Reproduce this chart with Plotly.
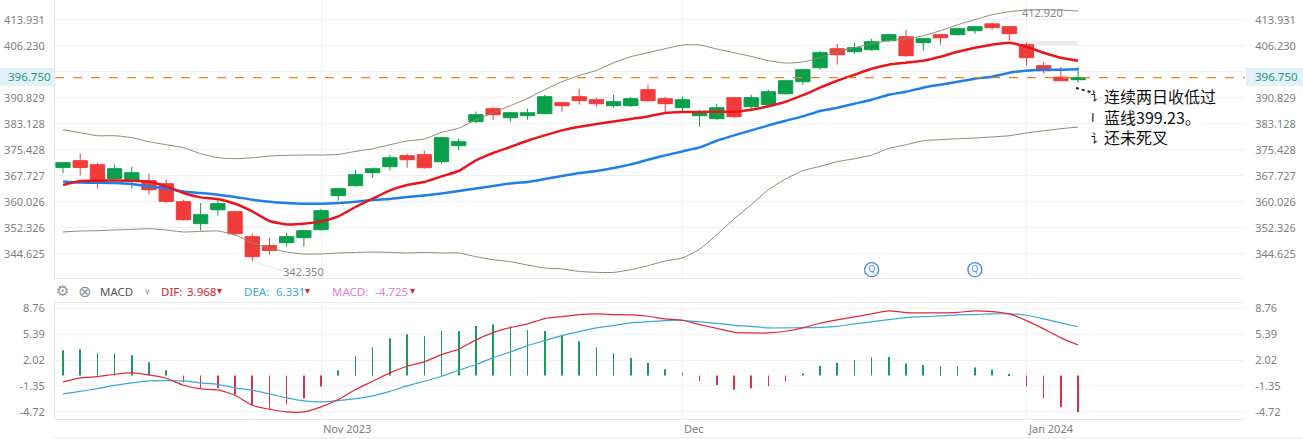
import plotly.graph_objects as go

WIDTH = 1303
HEIGHT = 439

dates = [
    "2023-10-11", "2023-10-12", "2023-10-13", "2023-10-16", "2023-10-17", "2023-10-18", "2023-10-19", "2023-10-20",
    "2023-10-23", "2023-10-24", "2023-10-25", "2023-10-26", "2023-10-27", "2023-10-30", "2023-10-31",
    "2023-11-01", "2023-11-02", "2023-11-03", "2023-11-06", "2023-11-07", "2023-11-08", "2023-11-09", "2023-11-10",
    "2023-11-13", "2023-11-14", "2023-11-15", "2023-11-16", "2023-11-17", "2023-11-20", "2023-11-21", "2023-11-22",
    "2023-11-24", "2023-11-27", "2023-11-28", "2023-11-29", "2023-11-30",
    "2023-12-01", "2023-12-04", "2023-12-05", "2023-12-06", "2023-12-07", "2023-12-08", "2023-12-11", "2023-12-12",
    "2023-12-13", "2023-12-14", "2023-12-15", "2023-12-18", "2023-12-19", "2023-12-20", "2023-12-21", "2023-12-22",
    "2023-12-26", "2023-12-27", "2023-12-28", "2023-12-29",
    "2024-01-02", "2024-01-03", "2024-01-04", "2024-01-05",
]

opens = [
    370.18, 372.17, 370.98, 366.84, 366.54, 366.24, 365.35, 360.02, 353.51, 357.65, 357.06, 349.66,
    346.99, 347.88, 349.36, 351.73, 361.80, 364.76, 368.61, 370.39, 373.65, 373.94, 371.87, 376.61,
    383.72, 387.57, 384.90, 385.50, 386.09, 389.35, 391.12, 390.24, 388.46, 388.46, 393.20, 390.53,
    387.87, 385.50, 384.61, 390.83, 388.16, 388.76, 392.01, 395.57, 399.71, 405.34, 404.45, 405.05,
    407.71, 408.90, 407.12, 409.49, 409.49, 410.67, 412.70, 411.86, 406.52, 400.31, 396.90, 396.16,
]
highs = [
    371.87, 374.24, 371.49, 370.98, 370.39, 368.32, 366.54, 360.61, 359.64, 360.61, 357.36, 350.54,
    349.36, 350.84, 351.73, 357.95, 364.17, 369.50, 370.09, 373.94, 374.24, 375.13, 379.28, 378.68,
    386.68, 388.16, 386.68, 387.57, 391.72, 389.64, 393.49, 390.83, 391.72, 391.12, 394.68, 391.12,
    391.12, 387.27, 389.05, 391.12, 391.72, 393.20, 396.16, 399.42, 404.75, 406.82, 407.12, 408.30,
    409.78, 410.97, 408.60, 409.78, 411.56, 412.15, 412.92, 412.15, 407.12, 401.49, 400.01, 400.01,
]
lows = [
    368.52, 367.81, 363.96, 366.24, 363.96, 362.18, 359.52, 354.48, 351.43, 355.87, 349.95, 342.35,
    344.32, 346.69, 346.69, 351.43, 360.32, 364.55, 367.13, 369.20, 370.09, 369.80, 371.28, 375.13,
    383.42, 384.31, 383.72, 384.31, 385.94, 386.68, 388.76, 388.16, 387.87, 388.16, 389.64, 386.09,
    386.68, 382.24, 384.31, 384.90, 387.27, 388.46, 391.72, 394.68, 399.12, 400.60, 403.86, 404.75,
    407.41, 402.97, 404.75, 406.53, 409.19, 409.78, 410.97, 407.71, 400.31, 397.94, 395.71, 395.27,
]
closes = [
    371.57, 370.18, 365.56, 369.80, 368.61, 363.58, 360.11, 354.69, 356.17, 359.43, 350.54, 343.73,
    345.60, 349.66, 351.43, 357.36, 363.87, 368.02, 369.80, 373.05, 372.46, 370.09, 378.98, 377.79,
    385.79, 385.79, 386.38, 386.38, 391.12, 388.46, 389.94, 389.05, 389.64, 390.53, 389.94, 389.05,
    390.24, 386.68, 387.87, 385.20, 390.83, 392.60, 395.86, 399.12, 404.16, 403.56, 405.64, 407.41,
    409.49, 403.27, 408.30, 408.60, 411.27, 411.86, 411.56, 409.78, 402.68, 398.82, 395.86, 396.75,
]

ma_fast = [
    364.97, 366.15, 366.24, 366.33, 366.24, 365.95, 364.55, 362.60, 361.30, 360.82, 359.43, 357.15,
    354.31, 353.30, 353.51, 354.19, 355.67, 358.45, 360.91, 363.37, 364.97, 365.86, 367.52, 369.12,
    372.26, 374.45, 376.23, 378.09, 379.66, 381.14, 382.24, 383.04, 383.81, 384.55, 385.29, 386.30,
    386.59, 386.59, 386.68, 386.68, 387.27, 388.31, 389.64, 391.57, 393.79, 395.86, 397.64, 399.42,
    400.60, 401.19, 401.79, 402.97, 404.45, 405.64, 406.53, 407.12, 405.93, 404.16, 402.68, 401.79,
]
ma_slow = [
    366.04, 365.74, 365.65, 365.56, 365.26, 364.55, 363.96, 363.07, 362.60, 362.10, 361.41, 360.61,
    360.02, 359.64, 359.43, 359.43, 359.64, 360.02, 360.53, 360.82, 361.41, 361.89, 362.48, 363.19,
    363.96, 364.67, 365.44, 365.86, 366.75, 367.63, 368.52, 369.12, 370.00, 371.07, 372.46, 373.74,
    374.92, 376.11, 378.09, 379.66, 381.14, 382.62, 384.01, 385.29, 386.89, 387.87, 389.05, 390.24,
    391.72, 392.60, 393.79, 394.68, 395.57, 396.46, 397.05, 398.23, 398.82, 399.12, 399.12, 399.23,
]
band_upper = [
    381.35, 380.46, 379.57, 379.57, 378.98, 377.79, 376.90, 376.02, 374.24, 373.05, 372.76, 373.05,
    373.56, 373.74, 373.85, 373.85, 374.03, 374.92, 375.72, 376.90, 378.00, 378.59, 380.55, 381.79,
    384.31, 386.38, 388.46, 390.62, 393.20, 395.57, 397.43, 398.91, 401.19, 402.97, 404.16, 405.34,
    406.44, 406.44, 405.25, 404.16, 403.06, 401.79, 401.10, 401.40, 402.68, 404.45, 405.64, 406.82,
    407.71, 408.30, 409.19, 410.67, 412.45, 413.93, 415.41, 416.30, 416.80, 416.89, 416.80, 416.50,
]
band_lower = [
    351.05, 351.34, 351.43, 351.64, 351.82, 352.03, 351.64, 351.05, 351.22, 351.34, 350.16, 347.88,
    346.31, 345.12, 344.53, 344.53, 344.83, 345.00, 345.12, 345.00, 344.83, 345.00, 344.83, 344.83,
    343.73, 342.84, 342.25, 341.27, 340.38, 340.09, 339.38, 339.08, 339.08, 339.88, 341.07, 342.46,
    343.35, 345.95, 350.25, 354.90, 359.13, 363.58, 366.75, 369.21, 370.48, 371.87, 372.76, 373.85,
    375.81, 376.90, 378.09, 378.39, 378.68, 378.89, 379.19, 379.57, 380.37, 381.05, 381.64, 382.15,
]

dif = [
    -0.82, -0.30, -0.13, 0.17, 0.35, 0.09, -0.35, -1.26, -1.73, -1.85, -2.55, -3.85,
    -4.37, -4.71, -4.71, -4.05, -3.11, -1.81, -0.74, 0.35, 1.21, 1.78, 2.72, 3.41,
    4.63, 5.57, 6.22, 6.70, 7.39, 7.65, 7.91, 8.00, 7.91, 7.87, 7.69, 7.35,
    7.17, 6.61, 6.13, 5.61, 5.53, 5.53, 5.75, 6.18, 6.78, 7.22, 7.61, 8.01,
    8.39, 8.17, 8.13, 8.13, 8.20, 8.39, 8.30, 8.00, 7.13, 6.05, 4.89, 3.968,
]
dea = [
    -2.37, -2.04, -1.69, -1.26, -0.95, -0.69, -0.65, -0.69, -0.95, -1.13, -1.59, -1.91,
    -2.37, -2.89, -3.28, -3.41, -3.24, -2.98, -2.63, -2.04, -1.34, -0.74, -0.09, 0.69,
    1.43, 2.33, 3.07, 3.89, 4.54, 5.18, 5.70, 6.18, 6.48, 6.83, 7.00, 7.13,
    7.17, 6.96, 6.78, 6.52, 6.39, 6.18, 6.18, 6.22, 6.26, 6.39, 6.70, 6.97,
    7.26, 7.52, 7.65, 7.74, 7.87, 7.91, 8.00, 8.00, 7.82, 7.35, 6.83, 6.331,
]
macd_hist = [
    3.28, 3.41, 2.94, 2.89, 2.63, 1.73, 0.69, -0.91, -1.60, -1.60, -2.46, -3.85,
    -4.32, -3.76, -2.98, -1.43, 0.69, 2.55, 3.67, 4.84, 5.36, 5.10, 5.79, 5.79,
    6.44, 6.65, 6.39, 5.92, 5.79, 5.14, 4.45, 3.67, 2.94, 2.29, 1.65, 0.82,
    0.35, -0.69, -1.21, -1.85, -1.65, -1.39, -0.73, 0.26, 1.25, 1.65, 2.03, 2.33,
    2.42, 1.56, 1.38, 1.17, 1.17, 1.04, 0.78, 0.22, -1.43, -2.94, -4.10, -4.725,
]

price_ticks = [413.931, 406.230, 398.530, 390.829, 383.128, 375.428, 367.727, 360.026, 352.326, 344.625]
price_labels = ["413.931", "406.230", "", "390.829", "383.128", "375.428", "367.727", "360.026", "352.326", "344.625"]
macd_ticks = [8.76, 5.39, 2.02, -1.35, -4.72]
macd_labels = ["8.76", "5.39", "2.02", "-1.35", "-4.72"]
month_ticks = ["2023-11-01", "2023-12-01", "2024-01-02"]
month_labels = ["Nov 2023", "Dec", "Jan 2024"]
news_dates = ["2023-12-18", "2023-12-27"]
news_level = [339.88, 339.88]
last_price = 396.75
note_lines = ["连续两日收低过", "蓝线399.23。", "还未死叉"]
note_cut = ["讠", "I", "讠"]

GREEN = "#0a9f4a"
RED = "#f23b3b"
GRID = "#eef0f3"
BORDER = "#e6e8ec"
LABEL = "#7b7f86"
FONT = "Noto Sans"
CJK = "Noto Sans CJK SC"


def px(x):
    return x / WIDTH


def py(y):
    return 1 - y / HEIGHT


def label(text, x, y, color=LABEL, size=11, anchor="left", family=FONT, **kwargs):
    return dict(text=text, x=px(x), y=py(y), xref="paper", yref="paper", xanchor=anchor, yanchor="middle",
                showarrow=False, font=dict(color=color, size=size, family=family), borderpad=0, **kwargs)


def line_trace(values, color, width, axis="y", shape="spline"):
    return go.Scatter(x=dates, y=values, mode="lines", hoverinfo="skip", xaxis="x" if axis == "y" else "x2",
                      yaxis=axis, line=dict(color=color, width=width, shape=shape, smoothing=0.5))


data = [
    line_trace(band_upper, "#8c8b6c", 1),
    line_trace(band_lower, "#8c8b6c", 1),
    go.Candlestick(x=dates, open=opens, high=highs, low=lows, close=closes, whiskerwidth=0,
                   increasing=dict(line=dict(color=GREEN, width=1), fillcolor=GREEN),
                   decreasing=dict(line=dict(color=RED, width=1), fillcolor=RED)),
    line_trace(ma_slow, "#1f7fe6", 2.5),
    line_trace(ma_fast, "#e8161c", 2.5),
    go.Scatter(x=news_dates, y=news_level, mode="markers+text", text=["Q", "Q"], textposition="middle center",
               textfont=dict(color="#3f8ae8", size=9, family=FONT), hoverinfo="skip",
               marker=dict(symbol="circle-open", size=14, color="#3f8ae8", line=dict(width=1.3))),
    # these two only keep the right hand axes on the page
    go.Scatter(x=[dates[-1]], y=[last_price], yaxis="y3", mode="markers", marker=dict(opacity=0), hoverinfo="skip"),
    go.Scatter(x=[dates[-1]], y=[dea[-1]], xaxis="x2", yaxis="y4", mode="markers", marker=dict(opacity=0),
               hoverinfo="skip"),
    go.Bar(x=dates, y=macd_hist, xaxis="x2", yaxis="y2", width=0.035, hoverinfo="skip",
           marker=dict(color=["#1c9a5c" if v >= 0 else "#dc2f48" for v in macd_hist], line=dict(width=0))),
    line_trace(dea, "#3aa9d6", 1.2, axis="y2"),
    line_trace(dif, "#e0283c", 1.2, axis="y2"),
]

x_range = [-0.465, 68.7]
price_range = [337.42, 419.77]
macd_range = [-5.63, 9.41]

x_common = dict(type="category", range=x_range, categoryorder="array", categoryarray=dates, tickmode="array",
                tickvals=month_ticks, ticktext=["", "", ""], showgrid=True, gridcolor=GRID, gridwidth=1,
                zeroline=False, showline=True, linecolor=BORDER, mirror=True, ticks="", fixedrange=True,
                automargin=False)
y_common = dict(zeroline=False, tickmode="array", tickfont=dict(color=LABEL, size=11, family=FONT),
                ticks="outside", ticklen=7, tickcolor="rgba(0,0,0,0)", fixedrange=True, automargin=False)

layout = go.Layout(
    width=WIDTH,
    height=HEIGHT,
    autosize=False,
    margin=dict(l=0, r=0, t=0, b=0),
    paper_bgcolor="white",
    plot_bgcolor="white",
    showlegend=False,
    boxgap=0.17,
    boxgroupgap=0,
    barmode="overlay",
    xaxis=dict(domain=[px(55), px(1245)], anchor="y", rangeslider=dict(visible=False), **x_common),
    xaxis2=dict(domain=[px(55), px(1245)], anchor="y2", **x_common),
    yaxis=dict(domain=[py(278), py(0)], range=price_range, tickvals=price_ticks, ticktext=price_labels,
               showgrid=True, gridcolor=GRID, showline=True, linecolor=BORDER, **y_common),
    yaxis2=dict(domain=[py(419), py(303)], range=macd_range, tickvals=macd_ticks, ticktext=macd_labels,
                showgrid=True, gridcolor=GRID, showline=True, linecolor=BORDER, **y_common),
    yaxis3=dict(overlaying="y", side="right", anchor="x", range=price_range, tickvals=price_ticks,
                ticktext=price_labels, showgrid=False, **y_common),
    yaxis4=dict(overlaying="y2", side="right", anchor="x2", range=macd_range, tickvals=macd_ticks,
                ticktext=macd_labels, showgrid=False, **y_common),
)

fig = go.Figure(data=data, layout=layout)

# price tags either side and the dashed last price line
for x0, x1 in [(0, 55), (1246, WIDTH)]:
    fig.add_shape(type="rect", xref="paper", yref="paper", x0=px(x0), x1=px(x1), y0=py(86), y1=py(68),
                  fillcolor="#e4f0fb", line=dict(width=0), layer="below")
fig.add_shape(type="line", xref="paper", yref="y", x0=px(55), x1=px(1245), y0=last_price, y1=last_price,
              line=dict(color="#e6861f", width=1.3, dash="dash"))
# leftover pale box under the price and the marks around the pasted note
fig.add_shape(type="rect", xref="x", yref="y", x0=55.5, x1=59, y0=406.23, y1=407.7,
              fillcolor="#e9ebef", line=dict(width=0), layer="below")
fig.add_shape(type="line", xref="paper", yref="paper", x0=px(1076), x1=px(1094), y0=py(88), y1=py(93),
              line=dict(color="#222222", width=2, dash="dot"))
# leader lines of the high and low labels
fig.add_shape(type="line", xref="paper", yref="paper", x0=px(252), x1=px(283), y0=py(261), y1=py(271),
              line=dict(color="#dfe2e6", width=1))
fig.add_shape(type="line", xref="paper", yref="paper", x0=px(992), x1=px(1020), y0=py(22), y1=py(14),
              line=dict(color="#e6e8ec", width=1))
fig.add_shape(type="line", xref="paper", yref="paper", x0=px(55), x1=1, y0=py(438), y1=py(438),
              line=dict(color=BORDER, width=1))

annotations = [
    label("396.750", 7, 77, color="#1f9d6b", size=11.5),
    label("396.750", 1254, 77, color="#1f9d6b", size=11.5),
    label("412.920", 1021, 13, color="#85898f"),
    label("342.350", 282, 271, color="#85898f"),
    label("⚙", 62, 291, color="#8a96a3", size=15, anchor="center", family="DejaVu Sans"),
    label("⊗", 84, 291, color="#8a96a3", size=16, anchor="center", family="DejaVu Sans"),
    label("MACD", 99, 291, color="#50545a", size=11.5),
    label("∨", 147, 291, color="#8a96a3", size=9, anchor="center", family="DejaVu Sans"),
    label("DIF:", 160, 291, color="#d8232f", size=11.5),
    label("3.968", 186, 291, color="#d8232f", size=11.5),
    label("▾", 219, 290, color="#d8232f", size=10, anchor="center", family="DejaVu Sans"),
    label("DEA:", 243, 291, color="#3aa9d6", size=11.5),
    label("6.331", 275, 291, color="#3aa9d6", size=11.5),
    label("▾", 307, 290, color="#d8232f", size=10, anchor="center", family="DejaVu Sans"),
    label("MACD:", 331, 291, color="#d982d6", size=11.5),
    label("-4.725", 374, 291, color="#d982d6", size=11.5),
    label("▾", 412, 290, color="#d8232f", size=10, anchor="center", family="DejaVu Sans"),
]
for text, tick in zip(month_labels, month_ticks):
    annotations.append(dict(text=text, x=tick, y=py(428), xref="x2", yref="paper", xanchor="left", yanchor="middle",
                            xshift=0, showarrow=False, font=dict(color=LABEL, size=11, family=FONT)))
for i, text in enumerate(note_cut):
    annotations.append(label(text, 1090, 95.5 + 21 * i, color="#111111", size=12, family=CJK))
for i, text in enumerate(note_lines):
    annotations.append(label(text, 1103, 95.5 + 21 * i, color="#111111", size=16, family=CJK, bgcolor="white",
                             height=20))
fig.update_layout(annotations=annotations)

# the page margin would push the whole figure down and to the right
fig.write_html("out.html", config={"displayModeBar": False},
               post_script="document.body.style.margin='0';window.dispatchEvent(new Event('resize'));")
